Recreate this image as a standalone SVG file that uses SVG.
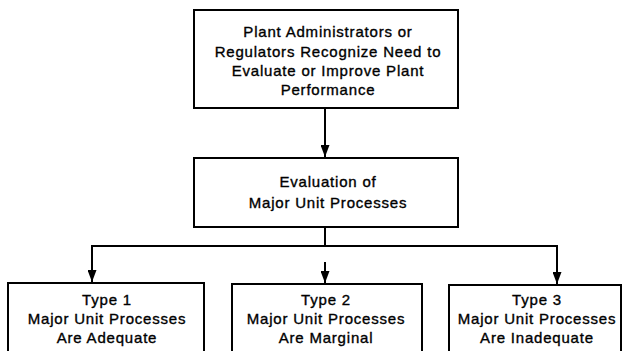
<svg xmlns="http://www.w3.org/2000/svg" width="627" height="351" viewBox="0 0 627 351">
<style>
  .box { fill: #fff; stroke: #000; stroke-width: 2; }
  .t { font-family: "Liberation Sans", Arial, sans-serif; font-size: 15px; letter-spacing: 0.8px; fill: #000; stroke: #000; stroke-width: 0.35px; text-anchor: middle; }
  .c { fill: none; stroke: #000; stroke-width: 2; }
</style>
<defs>
  <marker id="ah" viewBox="0 0 12 9" refX="12" refY="4.5" markerWidth="6" markerHeight="4.5" markerUnits="strokeWidth" orient="auto">
    <path d="M0,0 L12,4.5 L0,9 Z" fill="#000"/>
  </marker>
</defs>
<rect width="627" height="351" fill="#fff"/>
<g id="connectors">
  <line class="c" x1="325" y1="108" x2="325" y2="157" marker-end="url(#ah)"/>
  <line class="c" x1="325" y1="227" x2="325" y2="246"/>
  <line class="c" x1="91" y1="246" x2="558" y2="246" stroke-width="2.5"/>
  <line class="c" x1="92" y1="245" x2="92" y2="282" marker-end="url(#ah)"/>
  <line class="c" x1="557" y1="245" x2="557" y2="284" marker-end="url(#ah)"/>
  <line class="c" x1="325" y1="262" x2="325" y2="283" marker-end="url(#ah)"/>
</g>
<g id="node-top">
  <rect class="box" x="194" y="10" width="264" height="98"/>
  <text class="t" x="328" y="37">Plant Administrators or</text>
  <text class="t" x="328" y="57">Regulators Recognize Need to</text>
  <text class="t" x="328" y="76">Evaluate or Improve Plant</text>
  <text class="t" x="328" y="95">Performance</text>
</g>
<g id="node-eval">
  <rect class="box" x="194" y="158" width="264" height="69"/>
  <text class="t" x="328" y="187">Evaluation of</text>
  <text class="t" x="328" y="208">Major Unit Processes</text>
</g>
<g id="node-type1">
  <rect class="box" x="8" y="283" width="196" height="80"/>
  <text class="t" x="107" y="305">Type 1</text>
  <text class="t" x="107" y="324">Major Unit Processes</text>
  <text class="t" x="107" y="343">Are Adequate</text>
</g>
<g id="node-type2">
  <rect class="box" x="232" y="284" width="190" height="80"/>
  <text class="t" x="326" y="305">Type 2</text>
  <text class="t" x="326" y="324">Major Unit Processes</text>
  <text class="t" x="326" y="343">Are Marginal</text>
</g>
<g id="node-type3">
  <rect class="box" x="449" y="285" width="172" height="80"/>
  <text class="t" x="537" y="305">Type 3</text>
  <text class="t" x="537" y="324">Major Unit Processes</text>
  <text class="t" x="537" y="343">Are Inadequate</text>
</g>
</svg>
